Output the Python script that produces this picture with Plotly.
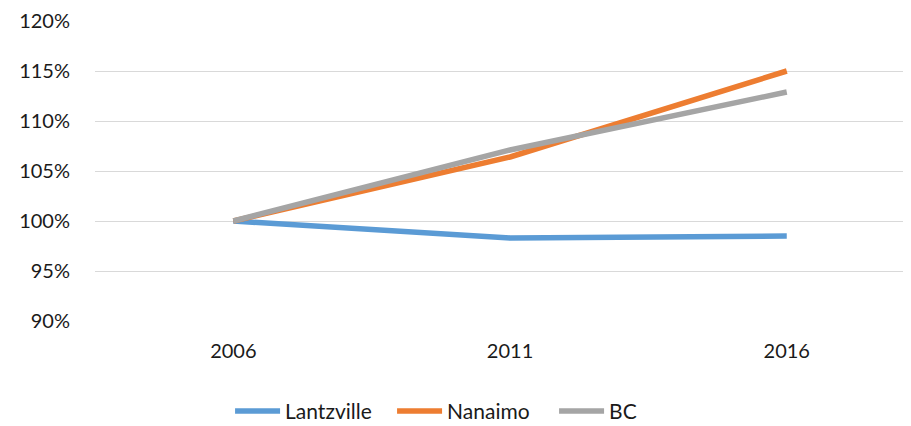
import plotly.graph_objects as go

years = ["2006", "2011", "2016"]
lantzville = [1.000, 0.983, 0.985]
nanaimo = [1.000, 1.064, 1.150]
bc = [1.000, 1.071, 1.129]
series_names = ["Lantzville", "Nanaimo", "BC"]
colors = ["#5B9BD5", "#ED7D31", "#A5A5A5"]
y_ticks = [0.90, 0.95, 1.00, 1.05, 1.10, 1.15, 1.20]
y_tick_labels = ["90%", "95%", "100%", "105%", "110%", "115%", "120%"]

FONT = "Lato, 'Open Sans', sans-serif"

fig = go.Figure()
for name, vals, col in zip(series_names, [lantzville, nanaimo, bc], colors):
    fig.add_trace(go.Scatter(
        x=[0, 1, 2], y=vals, mode="lines", name=name,
        line=dict(color=col, width=5.5),
    ))

fig.update_layout(
    width=911, height=426,
    margin=dict(l=87, r=8, t=13, b=113, autoexpand=False),
    paper_bgcolor="white", plot_bgcolor="white",
    font=dict(family=FONT, size=20, color="#1a1a1a"),
    showlegend=True,
    legend=dict(orientation="h", xref="container", yref="container",
                x=0.5105, xanchor="center", y=0.005, yanchor="bottom",
                font=dict(size=21, color="#1a1a1a"), itemwidth=45,
                entrywidth=102),
    xaxis=dict(
        tickmode="array", tickvals=[0, 1, 2], ticktext=years,
        range=[-0.5, 2.449], showgrid=False, zeroline=False,
        showline=False, ticks="", ticklabelstandoff=16, automargin=False,
        tickfont=dict(size=20),
    ),
    yaxis=dict(
        range=[0.90, 1.20], tickmode="array", tickvals=y_ticks, ticktext=y_tick_labels,
        showgrid=True, gridcolor="#D9D9D9", gridwidth=1.3, zeroline=False,
        showline=False, ticks="", ticklabelstandoff=24, automargin=False,
        tickfont=dict(size=20),
    ),
)

fig.write_html("out.html")
